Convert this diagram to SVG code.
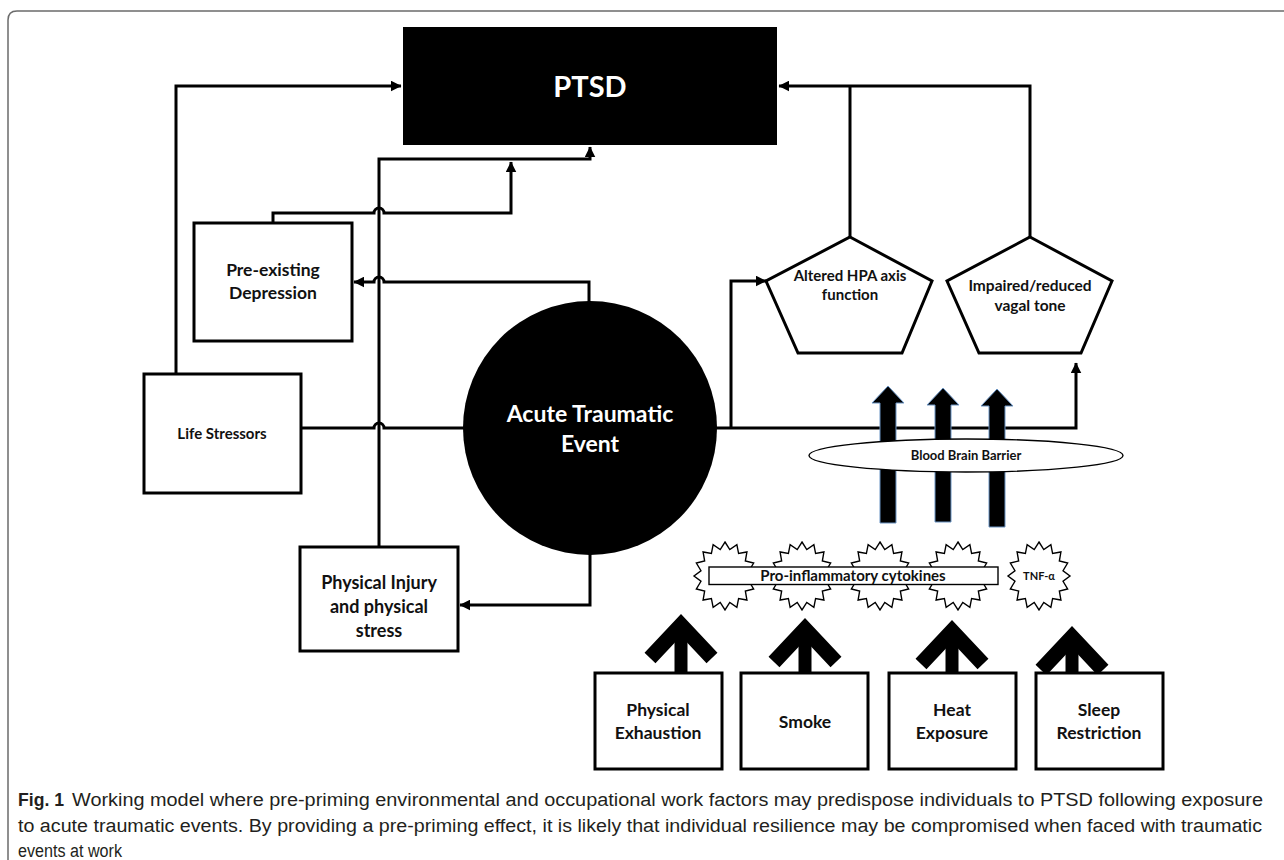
<svg xmlns="http://www.w3.org/2000/svg" xmlns:xlink="http://www.w3.org/1999/xlink" width="1284" height="860" viewBox="0 0 1284 860">
<style>
.ln{fill:none;stroke:#000;stroke-width:3;}
.box{fill:#fff;stroke:#000;stroke-width:3;}
.thin{fill:#fff;stroke:#000;stroke-width:1.4;}
.lbl{font-family:Lato,"Open Sans",sans-serif;font-weight:700;fill:#111;text-anchor:middle;}
.wlbl{font-family:Lato,"Open Sans",sans-serif;font-weight:700;fill:#fff;text-anchor:middle;}
.cap{font-family:"Liberation Sans",Arial,sans-serif;font-size:18px;fill:#231f20;}
.fat{fill:#000;stroke:#6a94c4;stroke-width:1;}
.chev{fill:none;stroke:#000;stroke-width:15;stroke-linejoin:miter;stroke-miterlimit:10;}
.shaft{stroke:#000;stroke-width:13;}
</style>
<defs>
<marker id="ah" viewBox="0 0 10 10" refX="9.5" refY="5" markerWidth="11" markerHeight="11" markerUnits="userSpaceOnUse" orient="auto"><path d="M0,0 L10,5 L0,10 z" fill="#000"/></marker>
<polygon id="star" points="0,-34 4.78,-26.48 11.86,-31.41 13.61,-22.45 21.92,-24.04 20.37,-15 28.64,-13.01 24.03,-5.27 31,0 24.03,5.27 28.64,13.01 20.37,15 21.92,24.04 13.61,22.45 11.86,31.41 4.78,26.48 0,34 -4.78,26.48 -11.86,31.41 -13.61,22.45 -21.92,24.04 -20.37,15 -28.64,13.01 -24.03,5.27 -31,0 -24.03,-5.27 -28.64,-13.01 -20.37,-15 -21.92,-24.04 -13.61,-22.45 -11.86,-31.41 -4.78,-26.48"/>
</defs>
<rect width="1284" height="860" fill="#fff"/>
<path d="M1284,11 H17 Q8,11 8,20 V860" fill="none" stroke="#6b6b6b" stroke-width="1.5"/>

<g id="connectors">
<path class="ln" d="M176,374 V86 H401" marker-end="url(#ah)"/>
<path class="ln" d="M1030,237 V86 H779" marker-end="url(#ah)"/>
<path class="ln" d="M850,237 V86"/>
<path class="ln" d="M273,223 V213 H374 A5,5 0 0 1 384,213 H511 V162" marker-end="url(#ah)"/>
<path class="ln" d="M379,547 V159 H590 V147" marker-end="url(#ah)"/>
<path class="ln" d="M589,302 V282 H384 A5,5 0 0 0 374,282 H354" marker-end="url(#ah)"/>
<path class="ln" d="M301,428 H374 A5,5 0 0 1 384,428 H465"/>
<path class="ln" d="M590,553 V605 H460" marker-end="url(#ah)"/>
<path class="ln" d="M715,428 H1076 V363" marker-end="url(#ah)"/>
<path class="ln" d="M731,428 V281 H766" marker-end="url(#ah)"/>
</g>

<g id="ptsd">
<rect x="403" y="27" width="374" height="118" fill="#000"/>
<text class="wlbl" x="590" y="97" font-size="29">PTSD</text>
</g>

<g id="life-stressors">
<rect class="box" x="144" y="374" width="157" height="119"/>
<text class="lbl" x="222" y="439" font-size="15">Life Stressors</text>
</g>

<g id="pre-existing-depression">
<rect class="box" x="194" y="223" width="158" height="118"/>
<text class="lbl" x="273" y="276" font-size="17.5">Pre-existing</text>
<text class="lbl" x="273" y="299" font-size="17.5">Depression</text>
</g>

<g id="acute-traumatic-event">
<circle cx="590" cy="428" r="127" fill="#000"/>
<text class="wlbl" x="590" y="422" font-size="23">Acute Traumatic</text>
<text class="wlbl" x="590" y="452" font-size="23">Event</text>
</g>

<g id="physical-injury">
<rect class="box" x="300" y="547" width="158" height="104"/>
<text class="lbl" x="379" y="589" font-size="18">Physical Injury</text>
<text class="lbl" x="379" y="613" font-size="18">and physical</text>
<text class="lbl" x="379" y="637" font-size="18">stress</text>
</g>

<g id="altered-hpa">
<polygon class="box" points="850,237 932,281 902,353 798,353 766,281"/>
<text class="lbl" x="850" y="281" font-size="15">Altered HPA axis</text>
<text class="lbl" x="850" y="300" font-size="15">function</text>
</g>

<g id="impaired-vagal-tone">
<polygon class="box" points="1030,237 1112,281 1081,353 979,353 947,281"/>
<text class="lbl" x="1030" y="291" font-size="15.5">Impaired/reduced</text>
<text class="lbl" x="1030" y="311" font-size="15.5">vagal tone</text>
</g>

<g id="bbb-arrows">
<polygon class="fat" points="888,386 904,403 896,403 896,523 880,523 880,403 872,403"/>
<polygon class="fat" points="943,388 959,405 951,405 951,522 935,522 935,405 927,405"/>
<polygon class="fat" points="997,389 1013,406 1005,406 1005,527 989,527 989,406 981,406"/>
</g>

<g id="blood-brain-barrier">
<ellipse cx="966" cy="455.5" rx="157" ry="16.5" class="thin"/>
<text class="lbl" x="966" y="460" font-size="13">Blood Brain Barrier</text>
</g>

<g id="cytokines">
<use xlink:href="#star" href="#star" x="725" y="576" class="thin"/>
<use xlink:href="#star" href="#star" x="802" y="576" class="thin"/>
<use xlink:href="#star" href="#star" x="880" y="576" class="thin"/>
<use xlink:href="#star" href="#star" x="958" y="576" class="thin"/>
<rect class="thin" x="709" y="567" width="289" height="17.5"/>
<text class="lbl" x="853" y="581" font-size="15">Pro-inflammatory cytokines</text>
</g>

<g id="tnf-alpha">
<use xlink:href="#star" href="#star" x="1039" y="576" class="thin"/>
<text class="lbl" x="1039" y="580" font-size="11">TNF-α</text>
</g>

<g id="factor-arrows">
<path class="chev" d="M650,658 L681,625 L712,658"/><line class="shaft" x1="681" y1="625" x2="681" y2="673"/>
<path class="chev" d="M774,662 L805,629 L836,662"/><line class="shaft" x1="805" y1="629" x2="805" y2="673"/>
<path class="chev" d="M921,664 L952,631 L983,664"/><line class="shaft" x1="952" y1="631" x2="952" y2="673"/>
<path class="chev" d="M1041,670 L1072,637 L1103,670"/><line class="shaft" x1="1072" y1="637" x2="1072" y2="673"/>
</g>

<g id="physical-exhaustion">
<rect class="box" x="595" y="673" width="127" height="96" stroke-width="2"/>
<text class="lbl" x="658" y="716" font-size="17.5">Physical</text>
<text class="lbl" x="658" y="739" font-size="17.5">Exhaustion</text>
</g>
<g id="smoke">
<rect class="box" x="741" y="673" width="127" height="96" stroke-width="2"/>
<text class="lbl" x="805" y="728" font-size="17.5">Smoke</text>
</g>
<g id="heat-exposure">
<rect class="box" x="889" y="673" width="127" height="96" stroke-width="2"/>
<text class="lbl" x="952" y="716" font-size="17.5">Heat</text>
<text class="lbl" x="952" y="739" font-size="17.5">Exposure</text>
</g>
<g id="sleep-restriction">
<rect class="box" x="1036" y="673" width="127" height="96" stroke-width="2"/>
<text class="lbl" x="1099" y="716" font-size="17.5">Sleep</text>
<text class="lbl" x="1099" y="739" font-size="17.5">Restriction</text>
</g>

<g id="caption">
<text class="cap" x="18" y="806" font-weight="bold" textLength="46" lengthAdjust="spacingAndGlyphs">Fig. 1</text>
<text class="cap" x="72" y="806" textLength="1191" lengthAdjust="spacingAndGlyphs">Working model where pre-priming environmental and occupational work factors may predispose individuals to PTSD following exposure</text>
<text class="cap" x="18" y="832" textLength="1244" lengthAdjust="spacingAndGlyphs">to acute traumatic events. By providing a pre-priming effect, it is likely that individual resilience may be compromised when faced with traumatic</text>
<text class="cap" x="18" y="857" textLength="104" lengthAdjust="spacingAndGlyphs">events at work</text>
</g>
</svg>
